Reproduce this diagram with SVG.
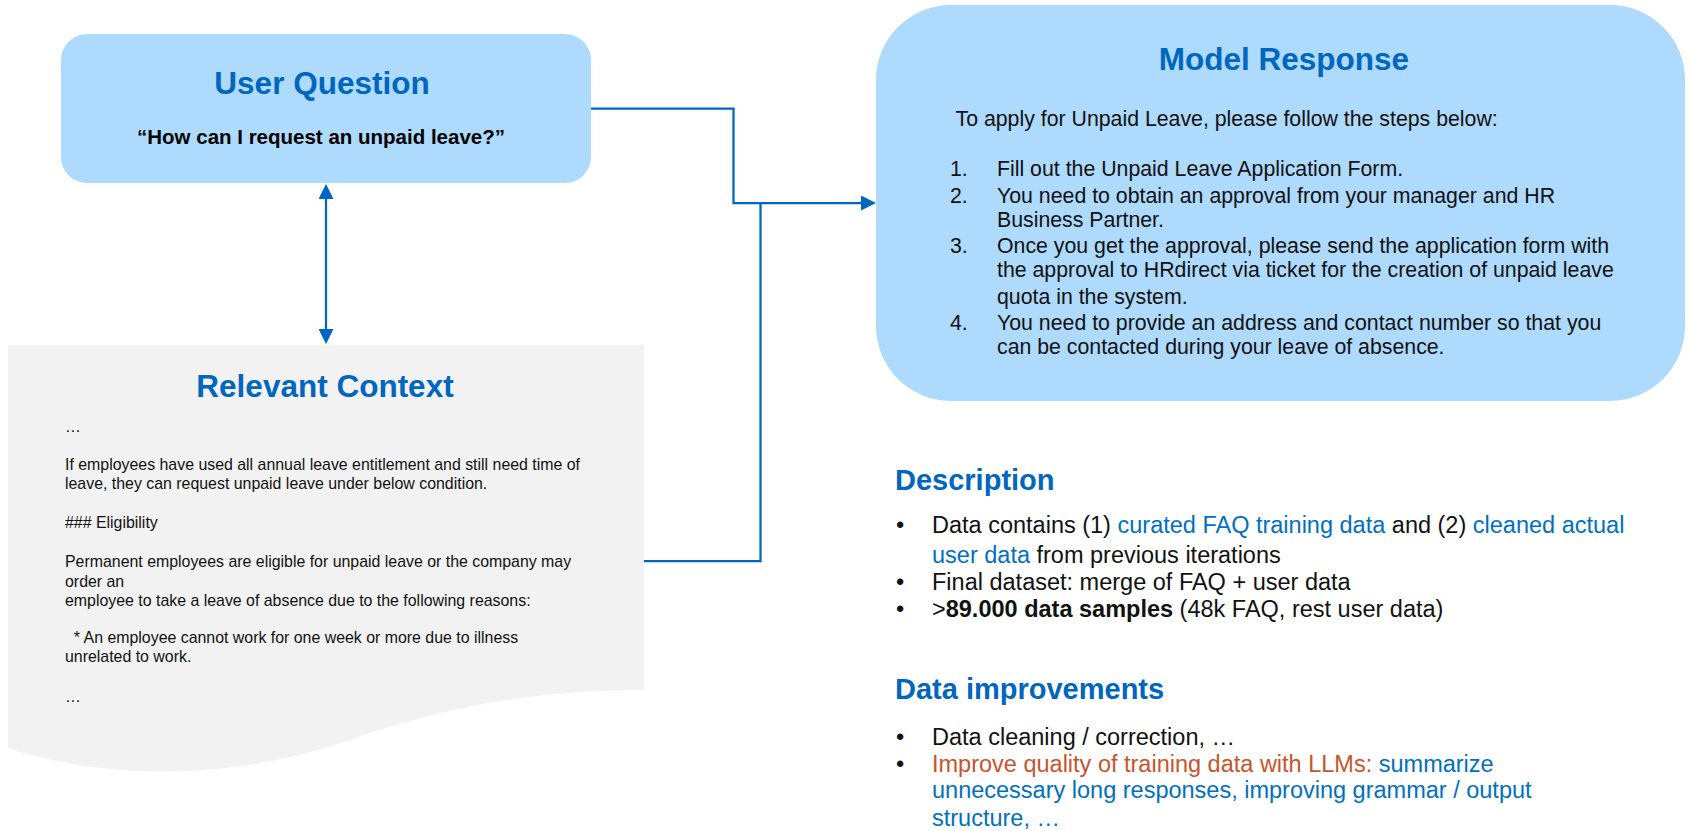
<svg xmlns="http://www.w3.org/2000/svg" width="1690" height="831" viewBox="0 0 1690 831">
<style>
.box{fill:#ADDAFD}
.ctx{fill:#F2F2F2}
.title{font-family:"Liberation Sans",Arial,sans-serif;font-weight:bold;font-size:31.5px;fill:#0066C0}
.head{font-family:"Liberation Sans",Arial,sans-serif;font-weight:bold;font-size:29px;fill:#0066C0}
.q{font-family:"Liberation Sans",Arial,sans-serif;font-weight:bold;font-size:20.5px;fill:#000}
.resp{font-family:"Liberation Sans",Arial,sans-serif;font-size:21.3px;fill:#111}
.ctxt{font-family:"Liberation Sans",Arial,sans-serif;font-size:15.9px;fill:#111}
.bul{font-family:"Liberation Sans",Arial,sans-serif;font-size:23.5px;fill:#111}
.blue{fill:#0070C0}
.orange{fill:#C8552A}
.conn{fill:none;stroke:#0066C0;stroke-width:2.25}
</style>
<defs>
<marker id="arr" viewBox="0 0 15 15" refX="0" refY="7.5" markerWidth="15" markerHeight="15" markerUnits="userSpaceOnUse" orient="auto-start-reverse">
<path d="M0,0 L15,7.5 L0,15 Z" fill="#0066C0"/>
</marker>
</defs>

<g id="relevant-context">
<path class="ctx" d="M8,345 H644 V690 C540,690 450,705 350,740 C250,775 120,785 8,748 Z"/>
<text class="title" x="325" y="397" text-anchor="middle">Relevant Context</text>
<text class="ctxt" x="65" y="432">…</text>
<text class="ctxt" x="65" y="470">If employees have used all annual leave entitlement and still need time of</text>
<text class="ctxt" x="65" y="489">leave, they can request unpaid leave under below condition.</text>
<text class="ctxt" x="65" y="528">### Eligibility</text>
<text class="ctxt" x="65" y="567">Permanent employees are eligible for unpaid leave or the company may</text>
<text class="ctxt" x="65" y="587">order an</text>
<text class="ctxt" x="65" y="606">employee to take a leave of absence due to the following reasons:</text>
<text class="ctxt" x="65" y="643" xml:space="preserve">  * An employee cannot work for one week or more due to illness</text>
<text class="ctxt" x="65" y="662">unrelated to work.</text>
<text class="ctxt" x="65" y="702">…</text>
</g>

<g id="user-question">
<rect class="box" x="61" y="34" width="530" height="149" rx="26" ry="26"/>
<text class="title" x="322" y="94" text-anchor="middle">User Question</text>
<text class="q" x="321" y="144" text-anchor="middle">“How can I request an unpaid leave?”</text>
</g>

<g id="model-response">
<rect class="box" x="876" y="5" width="809" height="396" rx="75" ry="75"/>
<text class="title" x="1284" y="70" text-anchor="middle">Model Response</text>
<text class="resp" x="955.5" y="125.5">To apply for Unpaid Leave, please follow the steps below:</text>
<text class="resp" x="950" y="176">1.</text>
<text class="resp" x="997" y="176">Fill out the Unpaid Leave Application Form.</text>
<text class="resp" x="950" y="202.5">2.</text>
<text class="resp" x="997" y="202.5">You need to obtain an approval from your manager and HR</text>
<text class="resp" x="997" y="227">Business Partner.</text>
<text class="resp" x="950" y="253">3.</text>
<text class="resp" x="997" y="253">Once you get the approval, please send the application form with</text>
<text class="resp" x="997" y="277">the approval to HRdirect via ticket for the creation of unpaid leave</text>
<text class="resp" x="997" y="304">quota in the system.</text>
<text class="resp" x="950" y="330">4.</text>
<text class="resp" x="997" y="330">You need to provide an address and contact number so that you</text>
<text class="resp" x="997" y="353.5">can be contacted during your leave of absence.</text>
</g>

<g id="description">
<text class="head" x="895" y="490">Description</text>
<text class="bul" x="896" y="533">•</text>
<text class="bul" x="932" y="533">Data contains (1) <tspan class="blue">curated FAQ training data</tspan> and (2) <tspan class="blue">cleaned actual</tspan></text>
<text class="bul" x="932" y="563"><tspan class="blue">user data</tspan> from previous iterations</text>
<text class="bul" x="896" y="590">•</text>
<text class="bul" x="932" y="590">Final dataset: merge of FAQ + user data</text>
<text class="bul" x="896" y="617">•</text>
<text class="bul" x="932" y="617">&gt;<tspan font-weight="bold">89.000 data samples</tspan> (48k FAQ, rest user data)</text>
</g>

<g id="data-improvements">
<text class="head" x="895" y="699">Data improvements</text>
<text class="bul" x="896" y="745">•</text>
<text class="bul" x="932" y="745">Data cleaning / correction, …</text>
<text class="bul" x="896" y="772">•</text>
<text class="bul" x="932" y="772"><tspan class="orange">Improve quality of training data with LLMs:</tspan><tspan class="blue"> summarize</tspan></text>
<text class="bul blue" x="932" y="798">unnecessary long responses, improving grammar / output</text>
<text class="bul blue" x="932" y="826">structure, …</text>
</g>

<g id="connectors">
<path class="conn" d="M591,108.5 H733.5 V203 H861" marker-end="url(#arr)"/>
<path class="conn" d="M644,561 H760.5 V203"/>
<path class="conn" d="M326,199 V329" marker-start="url(#arr)" marker-end="url(#arr)"/>
</g>
</svg>
